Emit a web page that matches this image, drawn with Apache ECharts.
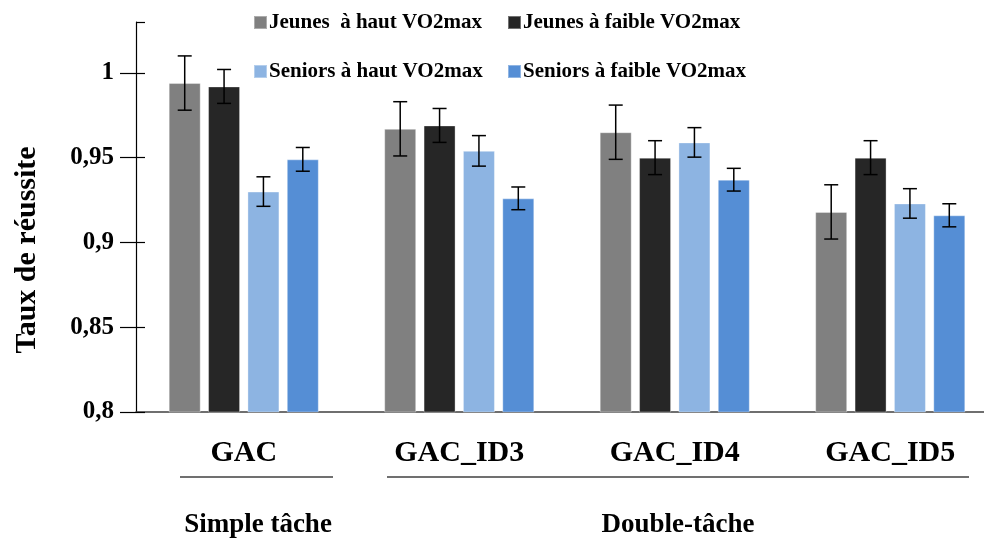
<!DOCTYPE html>
<html>
<head>
<meta charset="utf-8">
<script src="https://cdn.jsdelivr.net/npm/echarts@6/dist/echarts.min.js"></script>
<style>html,body{margin:0;padding:0;background:#fff;overflow:hidden}#c{width:998px;height:539px}</style>
</head>
<body>
<div id="c"></div>
<script>
var categories = ['GAC', 'GAC_ID3', 'GAC_ID4', 'GAC_ID5'];
var seriesNames = ['Jeunes  à haut VO2max', 'Jeunes à faible VO2max', 'Seniors à haut VO2max', 'Seniors à faible VO2max'];
var jeunesHaut = [0.994, 0.967, 0.965, 0.918];
var jeunesFaible = [0.992, 0.969, 0.950, 0.950];
var seniorsHaut = [0.930, 0.954, 0.959, 0.923];
var seniorsFaible = [0.949, 0.926, 0.937, 0.916];
var jeunesHautErr = [0.016, 0.016, 0.016, 0.016];
var jeunesFaibleErr = [0.010, 0.010, 0.010, 0.010];
var seniorsHautErr = [0.0087, 0.009, 0.0087, 0.0087];
var seniorsFaibleErr = [0.007, 0.0067, 0.0067, 0.0068];
var yTicks = [0.8, 0.85, 0.9, 0.95, 1];
var groupLabels = ['Simple tâche', 'Double-tâche'];

var colors = ['#808080', '#262626', '#8db4e2', '#558ed5'];
var values = [jeunesHaut, jeunesFaible, seniorsHaut, seniorsFaible];
var errs = [jeunesHautErr, jeunesFaibleErr, seniorsHautErr, seniorsFaibleErr];
var FONT = '"Liberation Serif", "Times New Roman", serif';
var BAR_W = 32, BAR_GAP = 0.23;

var chart = echarts.init(document.getElementById('c'));
var series = [];
values.forEach(function (v, i) {
  series.push({
    name: seriesNames[i], type: 'bar', data: v, barWidth: BAR_W, barGap: (BAR_GAP * 100) + '%',
    itemStyle: { color: colors[i], borderColor: 'rgba(255,255,255,0.35)', borderWidth: 1 }, z: 2
  });
});
values.forEach(function (v, i) {
  series.push({
    type: 'custom', z: 5, silent: true,
    data: v.map(function (val, k) { return [k, val, errs[i][k]]; }),
    renderItem: function (params, api) {
      var k = api.value(0), val = api.value(1), e = api.value(2);
      var off = (i - 1.5) * BAR_W * (1 + BAR_GAP);
      var top = api.coord([k, val + e]);
      var bot = api.coord([k, val - e]);
      var x = top[0] + off, hw = 7;
      var st = { stroke: '#000', lineWidth: 1.5 };
      return { type: 'group', children: [
        { type: 'line', shape: { x1: x, y1: top[1], x2: x, y2: bot[1] }, style: st },
        { type: 'line', shape: { x1: x - hw, y1: top[1], x2: x + hw, y2: top[1] }, style: st },
        { type: 'line', shape: { x1: x - hw, y1: bot[1], x2: x + hw, y2: bot[1] }, style: st }
      ] };
    }
  });
});

var legendPos = [[253, 12], [507, 12], [253, 61], [507, 61]];
var legends = seriesNames.map(function (n, i) {
  return {
    data: [n], left: legendPos[i][0], top: legendPos[i][1], icon: 'rect',
    itemWidth: 13, itemHeight: 13, padding: 0, selectedMode: false,
    textStyle: { fontFamily: FONT, fontWeight: 'bold', fontSize: 21, color: '#000', padding: [0, 0, 0, -3] }
  };
});

var yLabelFmt = function (v) {
  var r = Math.round(v * 100) / 100;
  return yTicks.indexOf(r) >= 0 ? String(r).replace('.', ',') : '';
};

chart.setOption({
  animation: false,
  legend: legends,
  grid: { left: 136, top: 22, right: 0, bottom: 127 },
  xAxis: {
    type: 'category', data: categories,
    axisLine: { lineStyle: { color: '#404040', width: 1.5 } },
    axisTick: { show: false },
    axisLabel: { fontFamily: FONT, fontWeight: 'bold', fontSize: 30, color: '#000', margin: 26 }
  },
  yAxis: [{
    type: 'value', min: 0.8, max: 1.03, interval: 0.05,
    splitLine: { show: false },
    axisLine: { show: true, lineStyle: { color: '#000', width: 1.2 } },
    axisTick: { show: true, length: 16, lineStyle: { color: '#000', width: 1.2 } },
    axisLabel: { fontFamily: FONT, fontWeight: 'bold', fontSize: 25, color: '#000', margin: 22, formatter: yLabelFmt, showMaxLabel: false }
  }, {
    type: 'value', min: 0.8, max: 1.03, interval: 0.05, position: 'left',
    splitLine: { show: false },
    axisLine: { show: false },
    axisTick: { show: true, inside: true, length: 9, lineStyle: { color: '#000', width: 1.2 } },
    axisLabel: { show: false }
  }],
  graphic: [
    { type: 'text', x: 27, y: 250, rotation: Math.PI / 2,
      style: { text: 'Taux de réussite', font: 'bold 30px ' + FONT, fill: '#000', align: 'center', verticalAlign: 'middle' } },
    { type: 'line', shape: { x1: 180, y1: 477, x2: 333, y2: 477 }, style: { stroke: '#404040', lineWidth: 1.5 } },
    { type: 'line', shape: { x1: 387, y1: 477, x2: 969, y2: 477 }, style: { stroke: '#404040', lineWidth: 1.5 } },
    { type: 'text', x: 258, y: 525, style: { text: groupLabels[0], font: 'bold 27px ' + FONT, fill: '#000', align: 'center', verticalAlign: 'middle' } },
    { type: 'text', x: 678, y: 525, style: { text: groupLabels[1], font: 'bold 27px ' + FONT, fill: '#000', align: 'center', verticalAlign: 'middle' } }
  ],
  series: series
});
</script>
</body>
</html>
